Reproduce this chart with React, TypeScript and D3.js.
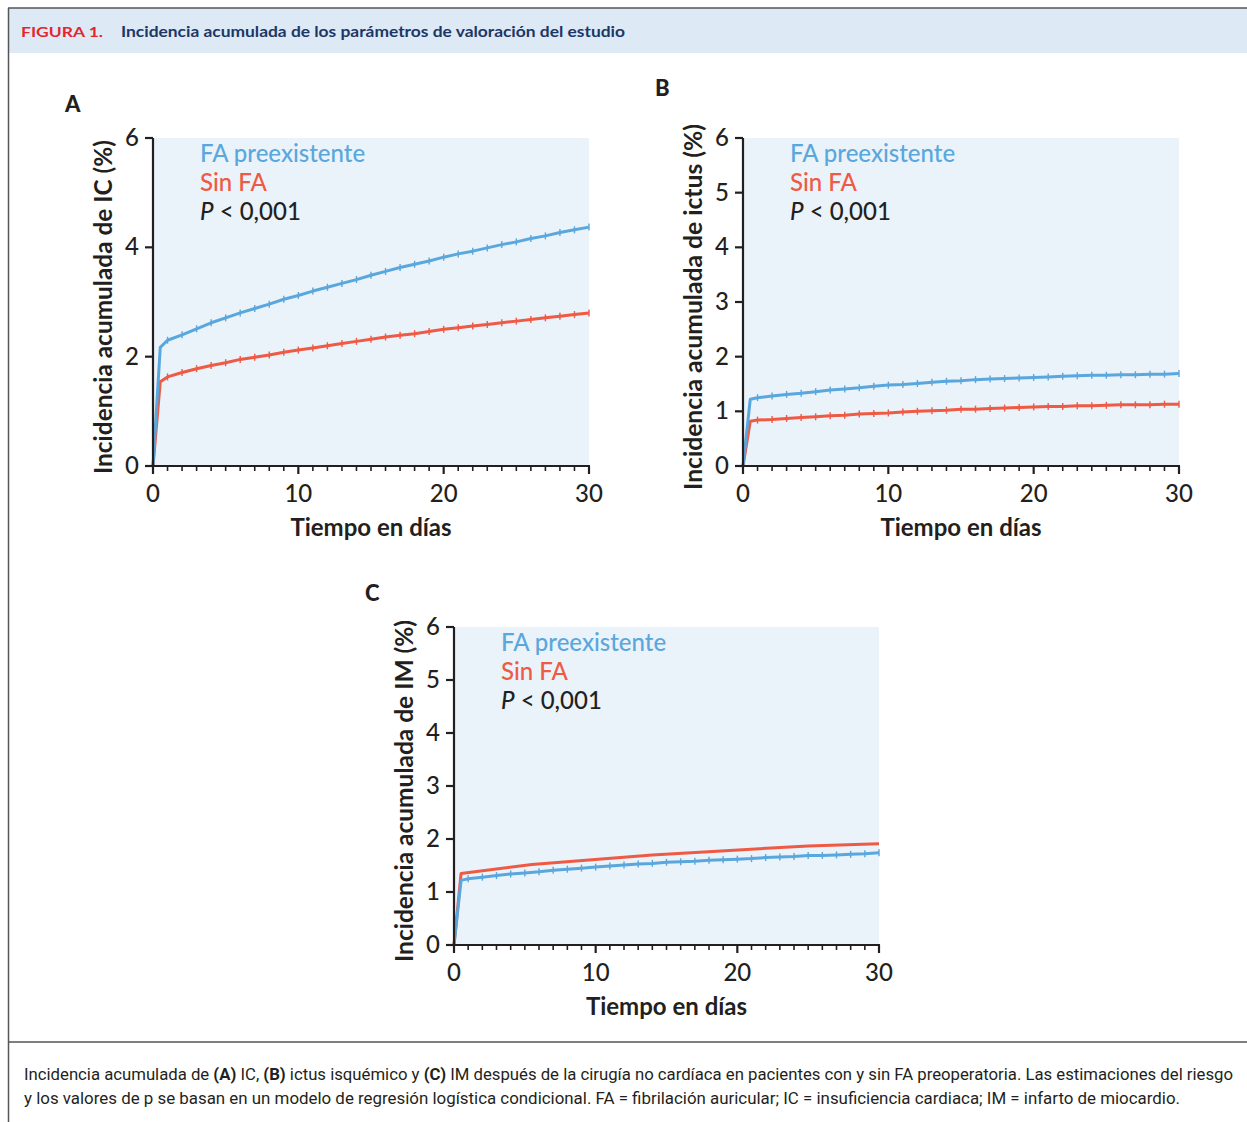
import React from 'react';
import * as d3 from 'd3';

// days on the time axis (first step at half a day)
const dayGrid = [0, 0.5, 1, 2, 3, 4, 5, 6, 7, 8, 9, 10, 11, 12, 13, 14, 15, 16, 17, 18, 19, 20, 21, 22, 23, 24, 25, 26, 27, 28, 29, 30];

// A: insuficiencia cardiaca
const icFaPre = [0, 2.17, 2.30, 2.40, 2.51, 2.62, 2.71, 2.80, 2.88, 2.96, 3.05, 3.12, 3.20, 3.27, 3.34, 3.41, 3.49, 3.56, 3.63, 3.69, 3.75, 3.82, 3.88, 3.93, 3.99, 4.05, 4.10, 4.16, 4.21, 4.27, 4.32, 4.37];
const icSinFa = [0, 1.54, 1.63, 1.71, 1.78, 1.84, 1.89, 1.95, 1.99, 2.03, 2.08, 2.12, 2.16, 2.20, 2.24, 2.28, 2.32, 2.36, 2.39, 2.42, 2.46, 2.50, 2.53, 2.56, 2.59, 2.62, 2.65, 2.68, 2.71, 2.74, 2.77, 2.80];

// B: ictus
const ictusFaPre = [0, 1.22, 1.25, 1.28, 1.31, 1.33, 1.36, 1.39, 1.41, 1.43, 1.46, 1.48, 1.49, 1.51, 1.53, 1.55, 1.56, 1.58, 1.59, 1.60, 1.61, 1.62, 1.63, 1.64, 1.65, 1.66, 1.66, 1.67, 1.67, 1.68, 1.68, 1.69];
const ictusSinFa = [0, 0.82, 0.84, 0.85, 0.87, 0.885, 0.90, 0.92, 0.93, 0.95, 0.96, 0.97, 0.99, 1.00, 1.01, 1.02, 1.04, 1.04, 1.05, 1.06, 1.07, 1.08, 1.09, 1.09, 1.10, 1.10, 1.11, 1.12, 1.12, 1.12, 1.13, 1.13];

// C: infarto de miocardio
const imFaPre = [0, 1.22, 1.25, 1.28, 1.31, 1.34, 1.36, 1.38, 1.41, 1.43, 1.45, 1.47, 1.49, 1.51, 1.53, 1.54, 1.56, 1.57, 1.58, 1.60, 1.61, 1.62, 1.63, 1.65, 1.66, 1.67, 1.69, 1.69, 1.70, 1.71, 1.72, 1.74];
const imSinFaDays = [0, 0.5, 5.5, 14, 25, 30];
const imSinFa = [0, 1.35, 1.52, 1.70, 1.87, 1.91];

const xTicks = [0, 10, 20, 30];
const legendLabels = ['FA preexistente', 'Sin FA'];

const BLUE = '#5aa7dd';
const RED = '#ee5a44';
const INK = '#231f20';
const FONT = 'Lato, "Noto Sans", sans-serif';

const zip = (xs, ys) => xs.map((d, i) => ({ day: d, value: ys[i] }));

const panels = [
  {
    letter: 'A', letterX: 65, letterY: 112,
    left: 153, right: 589, top: 138, bottom: 466,
    yTicks: [0, 2, 4, 6],
    yTitle: 'Incidencia acumulada de IC (%)', yTitleLen: 334,
    series: [
      { color: RED, data: zip(dayGrid, icSinFa), marks: true },
      { color: BLUE, data: zip(dayGrid, icFaPre), marks: true },
    ],
  },
  {
    letter: 'B', letterX: 655, letterY: 96,
    left: 743, right: 1179, top: 138, bottom: 466,
    yTicks: [0, 1, 2, 3, 4, 5, 6],
    yTitle: 'Incidencia acumulada de ictus (%)', yTitleLen: 366,
    series: [
      { color: RED, data: zip(dayGrid, ictusSinFa), marks: true },
      { color: BLUE, data: zip(dayGrid, ictusFaPre), marks: true },
    ],
  },
  {
    letter: 'C', letterX: 365, letterY: 601,
    left: 454, right: 879, top: 627, bottom: 945,
    yTicks: [0, 1, 2, 3, 4, 5, 6],
    yTitle: 'Incidencia acumulada de IM (%)', yTitleLen: 342,
    series: [
      { color: RED, data: zip(imSinFaDays, imSinFa), marks: false },
      { color: BLUE, data: zip(dayGrid, imFaPre), marks: true },
    ],
  },
];

const Panel = ({ p }) => {
  const x = d3.scaleLinear().domain([0, 30]).range([p.left, p.right]);
  const y = d3.scaleLinear().domain([0, 6]).range([p.bottom, p.top]);
  const line = d3.line().x(d => x(d.day)).y(d => y(d.value));
  const minor = d3.range(0, 31);
  const midY = (p.top + p.bottom) / 2 + 5;

  return (
    <g>
      <text x={p.letterX} y={p.letterY} fontFamily={FONT} fontWeight="900" fontSize={22} fill={INK}>{p.letter}</text>
      <rect x={p.left} y={p.top} width={p.right - p.left} height={p.bottom - p.top} fill="#eaf2fa" />

      {p.series.map((s, i) => (
        <g key={i}>
          <path d={line(s.data)} fill="none" stroke={s.color} strokeWidth={3} strokeLinejoin="round" />
          {s.marks && s.data.filter(d => d.day >= 1).map((d, j) => (
            <line key={j} x1={x(d.day)} x2={x(d.day)} y1={y(d.value) - 3.5} y2={y(d.value) + 3.5} stroke={s.color} strokeWidth={1.4} />
          ))}
        </g>
      ))}

      {/* axes */}
      <line x1={p.left} x2={p.left} y1={p.top} y2={p.bottom + 1} stroke={INK} strokeWidth={2.2} />
      <line x1={p.left - 1} x2={p.right + 1} y1={p.bottom} y2={p.bottom} stroke={INK} strokeWidth={2.2} />
      {minor.map(d => (
        <line key={d} x1={x(d)} x2={x(d)} y1={p.bottom} y2={p.bottom + (d % 10 === 0 ? 8 : 5)} stroke={INK} strokeWidth={xTicks.includes(d) ? 2.2 : 1.6} />
      ))}
      {xTicks.map(d => (
        <text key={d} x={x(d)} y={p.bottom + 36} textAnchor="middle" fontFamily={FONT} fontWeight="500" fontSize={24} fill={INK}>{d}</text>
      ))}
      {p.yTicks.map(d => (
        <g key={d}>
          <line x1={p.left - 8} x2={p.left} y1={y(d)} y2={y(d)} stroke={INK} strokeWidth={2.2} />
          <text x={p.left - 14} y={y(d) + 8} textAnchor="end" fontFamily={FONT} fontWeight="500" fontSize={24} fill={INK}>{d}</text>
        </g>
      ))}
      <text x={(p.left + p.right) / 2} y={p.bottom + 70} textAnchor="middle" fontFamily={FONT} fontWeight="bold" fontSize={24} fill={INK}>Tiempo en días</text>
      <text transform={`translate(${p.left - 51},${midY}) rotate(-90)`} textAnchor="middle" dominantBaseline="central" fontFamily={FONT} fontWeight="bold" fontSize={24} fill={INK} textLength={p.yTitleLen} lengthAdjust="spacingAndGlyphs">{p.yTitle}</text>

      {/* legend */}
      <text x={p.left + 47} y={p.top + 24} fontFamily={FONT} fontWeight="500" fontSize={24} fill={BLUE}>{legendLabels[0]}</text>
      <text x={p.left + 47} y={p.top + 53} fontFamily={FONT} fontWeight="500" fontSize={24} fill={RED}>{legendLabels[1]}</text>
      <text x={p.left + 47} y={p.top + 82} fontFamily={FONT} fontWeight="500" fontSize={24} fill={INK}>
        <tspan fontStyle="italic">P</tspan> &lt; 0,001
      </text>
    </g>
  );
};

const App = () => {
  const W = 1247;
  const H = 1122;
  const capFont = '"Liberation Sans Narrow", "Roboto", sans-serif';
  return (
    <svg width={W} height={H} style={{ position: 'absolute', left: 0, top: 0, background: '#fff' }}>
      {/* frame and header */}
      <rect x={9} y={8} width={W - 9} height={45} fill="#dde9f5" />
      <line x1={8} x2={W} y1={8} y2={8} stroke="#555" strokeWidth={1.5} />
      <line x1={8.5} x2={8.5} y1={8} y2={H} stroke="#555" strokeWidth={1.5} />
      <line x1={8} x2={W} y1={1042} y2={1042} stroke="#555" strokeWidth={1.5} />
      <text x={21} y={37} fontFamily={FONT} fontWeight="bold" fontSize={13} fill="#e2262e" textLength={82} lengthAdjust="spacingAndGlyphs">FIGURA 1.</text>
      <text x={121} y={37} fontFamily={FONT} fontWeight="bold" fontSize={16} fill="#1c3766" textLength={504} lengthAdjust="spacingAndGlyphs">Incidencia acumulada de los parámetros de valoración del estudio</text>

      {panels.map(p => <Panel key={p.letter} p={p} />)}

      {/* caption */}
      <text x={24} y={1080} fontFamily={capFont} fontSize={16} fill={INK} textLength={1209} lengthAdjust="spacingAndGlyphs">
        Incidencia acumulada de <tspan fontWeight="bold">(A)</tspan> IC, <tspan fontWeight="bold">(B)</tspan> ictus isquémico y <tspan fontWeight="bold">(C)</tspan> IM después de la cirugía no cardíaca en pacientes con y sin FA preoperatoria. Las estimaciones del riesgo
      </text>
      <text x={24} y={1104} fontFamily={capFont} fontSize={16} fill={INK} textLength={1156} lengthAdjust="spacingAndGlyphs">
        y los valores de p se basan en un modelo de regresión logística condicional. FA = fibrilación auricular; IC = insuficiencia cardiaca; IM = infarto de miocardio.
      </text>
    </svg>
  );
};

export default App;
